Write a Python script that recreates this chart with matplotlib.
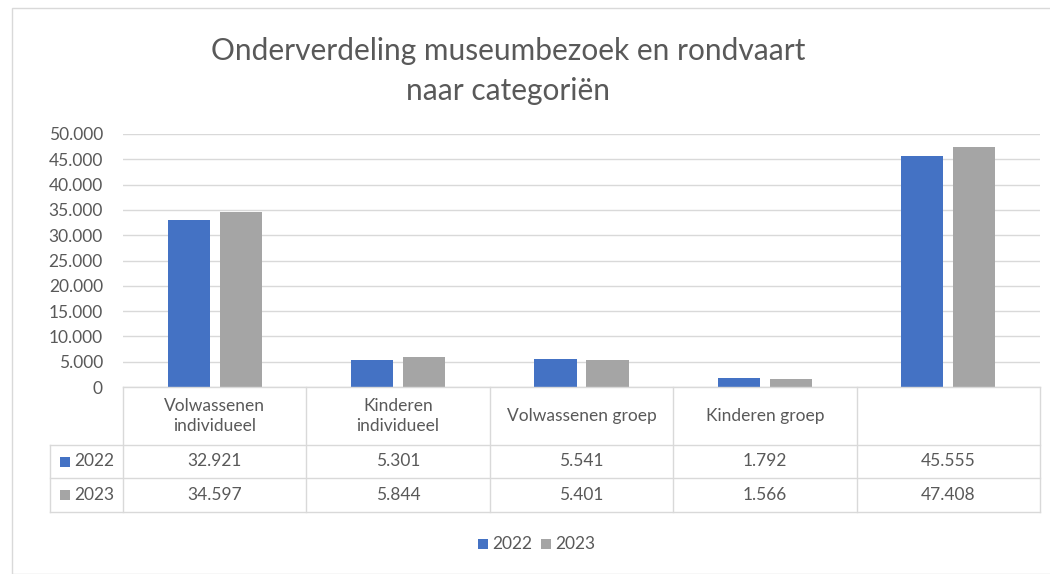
import matplotlib
matplotlib.use('Agg')
import matplotlib.pyplot as plt
from matplotlib.patches import Rectangle
from matplotlib.lines import Line2D
import matplotlib.transforms as mtransforms

categories = ["Volwassenen\nindividueel", "Kinderen\nindividueel", "Volwassenen groep", "Kinderen groep", ""]
years = ["2022", "2023"]
values_2022 = [32921, 5301, 5541, 1792, 45555]
values_2023 = [34597, 5844, 5401, 1566, 47408]
yticks = [0, 5000, 10000, 15000, 20000, 25000, 30000, 35000, 40000, 45000, 50000]

BLUE = "#4472C4"
GRAY = "#A5A5A5"
TEXT = "#595959"
GRID = "#D9D9D9"
FS = 12.5

plt.rcParams['font.family'] = ['Lato', 'DejaVu Sans']

W, H = 1050, 574
fig = plt.figure(figsize=(W / 100, H / 100), dpi=100)

def fx(px):
    return px / W

def fy(py):
    return 1 - py / H

# chart frame
fig.add_artist(Rectangle((fx(12), fy(574)), fx(1060) - fx(12), fy(8) - fy(574),
                         transform=fig.transFigure, fill=False, edgecolor=GRID, lw=1))

ax = fig.add_axes([fx(123), fy(387), fx(1040) - fx(123), fy(134) - fy(387)])
n = len(categories)
x = [i + 0.5 for i in range(n)]
bw = 0.23
off = 0.142
ax.bar([v - off for v in x], values_2022, bw, color=BLUE, zorder=3)
ax.bar([v + off for v in x], values_2023, bw, color=GRAY, zorder=3)

ax.set_xlim(0, n)
ax.set_ylim(0, 50000)
ax.set_yticks(yticks)
ax.set_yticklabels([f"{t:,}".replace(",", ".") for t in yticks], color=TEXT, fontsize=FS)
ax.tick_params(axis='y', length=0, pad=14.5)
ax.set_xticks([])
ax.grid(axis='y', color=GRID, lw=1, zorder=0)
for s in ax.spines.values():
    s.set_visible(False)

# data table below the axes
trans = mtransforms.blended_transform_factory(ax.transData, fig.transFigure)
row_h = [fy(387), fy(445), fy(478), fy(512)]
left_px = 50
lkw = dict(color=GRID, lw=1, transform=fig.transFigure)
fig.add_artist(Line2D([fx(123), fx(1040)], [row_h[0], row_h[0]], **lkw))
for yy in row_h[1:]:
    fig.add_artist(Line2D([fx(left_px), fx(1040)], [yy, yy], **lkw))
fig.add_artist(Line2D([fx(left_px), fx(left_px)], [row_h[1], row_h[3]], **lkw))
for i in range(n + 1):
    xp = ax.transData.transform((i, 0))[0] / fig.bbox.width
    fig.add_artist(Line2D([xp, xp], [row_h[0], row_h[3]], **lkw))

for i, cat in enumerate(categories):
    ax.text(x[i], (row_h[0] + row_h[1]) / 2, cat, transform=trans, ha='center', va='center',
            color=TEXT, fontsize=FS, linespacing=1.35)
    ax.text(x[i], (row_h[1] + row_h[2]) / 2, f"{values_2022[i]:,}".replace(",", "."),
            transform=trans, ha='center', va='center', color=TEXT, fontsize=FS)
    ax.text(x[i], (row_h[2] + row_h[3]) / 2, f"{values_2023[i]:,}".replace(",", "."),
            transform=trans, ha='center', va='center', color=TEXT, fontsize=FS)

for j, (yr, col) in enumerate(zip(years, [BLUE, GRAY])):
    yc = (row_h[j + 1] + row_h[j + 2]) / 2
    fig.add_artist(Rectangle((fx(60), yc - 5 / H), 10 / W, 10 / H, transform=fig.transFigure,
                             color=col, lw=0))
    fig.text(fx(74), yc, yr, ha='left', va='center', color=TEXT, fontsize=FS)

# legend
ly = fy(544)
for px_sq, px_txt, yr, col in [(478, 492, years[0], BLUE), (541, 555, years[1], GRAY)]:
    fig.add_artist(Rectangle((fx(px_sq), ly - 5 / H), 10 / W, 10 / H, transform=fig.transFigure,
                             color=col, lw=0))
    fig.text(fx(px_txt), ly, yr, ha='left', va='center', color=TEXT, fontsize=FS)

fig.text(fx(508), fy(71), "Onderverdeling museumbezoek en rondvaart\nnaar categoriën",
         ha='center', va='center', color=TEXT, fontsize=21.5, linespacing=1.5)

fig.savefig("out.png", dpi=100)
